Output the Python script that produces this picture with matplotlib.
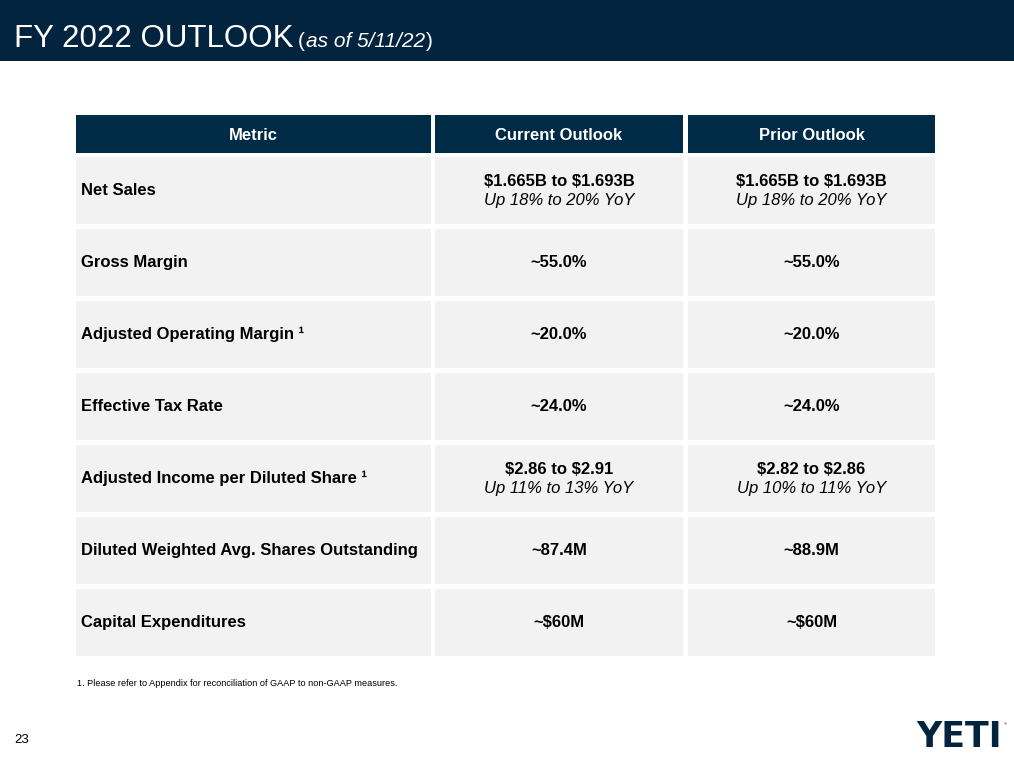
import matplotlib

matplotlib.use("Agg")
from matplotlib import pyplot as plt
from matplotlib.patches import Rectangle

W, H = 1014, 757
NAVY = "#03243F"
HEAD = "#002B47"
CELL = "#F2F2F2"

plt.rcParams["font.family"] = ["Liberation Sans", "DejaVu Sans"]
plt.rcParams["text.parse_math"] = False

columns = ["Metric", "Current Outlook", "Prior Outlook"]
metrics = [
    "Net Sales",
    "Gross Margin",
    "Adjusted Operating Margin \u00b9",
    "Effective Tax Rate",
    "Adjusted Income per Diluted Share \u00b9",
    "Diluted Weighted Avg. Shares Outstanding",
    "Capital Expenditures",
]
current = ["$1.665B to $1.693B", "~55.0%", "~20.0%", "~24.0%",
           "$2.86 to $2.91", "~87.4M", "~$60M"]
current_note = ["Up 18% to 20% YoY", "", "", "", "Up 11% to 13% YoY", "", ""]
prior = ["$1.665B to $1.693B", "~55.0%", "~20.0%", "~24.0%",
         "$2.82 to $2.86", "~88.9M", "~$60M"]
prior_note = ["Up 18% to 20% YoY", "", "", "", "Up 10% to 11% YoY", "", ""]

# table geometry in pixels
col_x = [(76, 431), (435, 683), (688, 935)]
head_y = (115, 153)
row_top = 157
row_h = 67
row_step = 72
FS = 12

fig = plt.figure(figsize=(W / 100, H / 100), dpi=100)
ax = fig.add_axes([0, 0, 1, 1])
ax.set_xlim(0, W)
ax.set_ylim(H, 0)
ax.axis("off")


def right_edge(txt):
    fig.canvas.draw()
    return txt.get_window_extent().transformed(ax.transData.inverted()).x1


# title bar
ax.add_patch(Rectangle((0, 0), W, 61, color=NAVY, lw=0))
t = ax.text(14, 47, "FY 2022 OUTLOOK", color="white", fontsize=22.5, va="baseline")
p = ax.text(right_edge(t) + 4, 47, "(", color="white", fontsize=15, va="baseline")
it = ax.text(right_edge(p) + 1, 47, "as of 5/11/22", color="white", fontsize=15,
             style="italic", va="baseline")
ax.text(right_edge(it) + 1, 47, ")", color="white", fontsize=15, va="baseline")

# header row
for (x0, x1), name in zip(col_x, columns):
    ax.add_patch(Rectangle((x0, head_y[0]), x1 - x0, head_y[1] - head_y[0],
                           color=HEAD, lw=0))
    ax.text((x0 + x1) / 2, (head_y[0] + head_y[1]) / 2 + 1, name, color="white",
            fontsize=FS, weight="bold", ha="center", va="center")

# body rows
for i, m in enumerate(metrics):
    y0 = row_top + i * row_step
    yc = y0 + row_h / 2
    for x0, x1 in col_x:
        ax.add_patch(Rectangle((x0, y0), x1 - x0, row_h, color=CELL, lw=0))
    ax.text(col_x[0][0] + 5, yc, m, fontsize=FS, weight="bold",
            ha="left", va="center", color="black")
    for (x0, x1), val, note in [(col_x[1], current[i], current_note[i]),
                                (col_x[2], prior[i], prior_note[i])]:
        xc = (x0 + x1) / 2
        if note:
            ax.text(xc, yc - 9, val, fontsize=FS, weight="bold",
                    ha="center", va="center", color="black")
            ax.text(xc, yc + 10, note, fontsize=FS, style="italic",
                    ha="center", va="center", color="black")
        else:
            ax.text(xc, yc, val, fontsize=FS, weight="bold",
                    ha="center", va="center", color="black")

# footnote, page number, logo
ax.text(77, 684, "1. Please refer to Appendix for reconciliation of GAAP to non-GAAP measures.",
        fontsize=6.6, ha="left", va="center", color="black")
ax.text(14, 740, "23", fontsize=9.5, ha="left", va="center", color="black")
ax.text(1002, 737, "YETI", fontsize=25, weight="bold", family="DejaVu Sans",
        ha="right", va="center", color=NAVY)
ax.text(1004, 724, "\u00ae", fontsize=3, ha="left", va="center", color=NAVY)

fig.savefig("out.png", dpi=100)
